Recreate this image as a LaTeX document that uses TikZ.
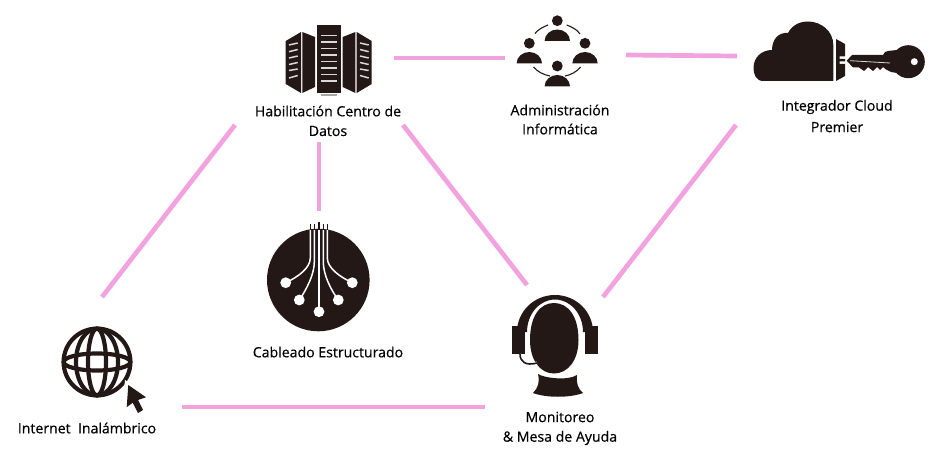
\documentclass[tikz,border=0pt]{standalone}
\usepackage{fontspec}
\setmainfont{Open Sans}[RawFeature={embolden=0.5}]
\definecolor{icondark}{HTML}{231815}
\definecolor{linkpink}{HTML}{F2A2DE}
\tikzset{
  link/.style={linkpink,line width=4.7pt},
  label/.style={font=\fontsize{14.1}{16}\selectfont,text=black,inner sep=0pt},
  icon/.style={fill=icondark,draw=none},
  slat/.style={draw=white!85!black,line width=1.5pt},
  wire/.style={draw=white,line width=1.5pt},
  grille/.style={draw=icondark,line width=4.2pt},
  ringarc/.style={draw=icondark,line width=1.1pt}
}
\begin{document}
\begin{tikzpicture}[x=1pt,y=-1pt]
\useasboundingbox (0,0) rectangle (937,468);

\coordinate (centroA) at (394,58);
\coordinate (adminA) at (505,58);
\coordinate (adminB) at (626,55);
\coordinate (cloudA) at (737,56);
\coordinate (centroB) at (235,125);
\coordinate (webA) at (102,297);
\coordinate (centroC) at (319,142);
\coordinate (cableA) at (319,211);
\coordinate (centroD) at (403,125);
\coordinate (deskA) at (527,285);
\coordinate (cloudB) at (736,125);
\coordinate (deskB) at (603,297);
\coordinate (webB) at (182,407);
\coordinate (deskC) at (485,407);

\draw[link] (centroA) -- (adminA);
\draw[link] (adminB) -- (cloudA);
\draw[link] (centroB) -- (webA);
\draw[link] (centroC) -- (cableA);
\draw[link] (centroD) -- (deskA);
\draw[link] (cloudB) -- (deskB);
\draw[link] (webB) -- (deskC);

% servers
\fill[icon] (317,25) rectangle (341,93);
\fill[white!65!black] (321,94) rectangle (337,96);
\fill[icon] (285.7,41) -- (301,32) -- (301,93) -- (285.7,84) -- cycle;
\fill[icon] (302.3,32) -- (315,37) -- (315,87) -- (302.3,93) -- cycle;
\fill[icon] (342.7,37) -- (355.4,32) -- (355.4,93) -- (342.7,87) -- cycle;
\fill[icon] (356.7,32) -- (371.7,41) -- (371.7,84) -- (356.7,93) -- cycle;
\foreach \y in {35.3,41.8,48.3,54.8,61.3,67.8,74.3,80.8}
  \draw[slat] (321,\y) -- (337,\y);
\foreach \y/\z in {45/43,51.7/49.5,58/56,64.5/62.5,70.5/69,78/75.5} {
  \draw[slat] (289,\y) -- (297.7,\z);
  \draw[slat] (368.7,\y) -- (360,\z);
}

% people
\foreach \hx/\hy/\by in {557.3/20.7/41,529.3/43.3/63.5,585/43.3/63.5,557.3/66/86.5} {
  \fill[icon] (\hx,\hy) circle (5.4);
  \fill[icon] (\hx-12.7,\by) arc[start angle=180,end angle=360,x radius=12.7,y radius=11.5] -- cycle;
}
\draw[ringarc] (535,33.5) .. controls (538,29.5) and (543,27) .. (548,25);
\draw[ringarc] (566.7,25) .. controls (572,27) and (577,29.5) .. (580,34);
\draw[ringarc] (533.5,67) .. controls (537,71.5) and (544,75) .. (550,76);
\draw[ringarc] (565,76) .. controls (571,75) and (577,71.5) .. (580.5,67);

% cloud and key
\fill[icon] (763,81) .. controls (756,81) and (753.5,74) .. (753.5,68)
  .. controls (753.5,57) and (762,50) .. (772,50)
  .. controls (772,39) and (779,32) .. (788,33)
  .. controls (792,25) and (800,21.5) .. (808,21.5)
  .. controls (821,21.5) and (833.3,31) .. (833.3,45)
  -- (833.3,81) -- cycle;
\fill[icon] (836,39) -- (845,44) -- (845,56.5) -- (839.5,56.5) -- (839.5,59) -- (845,59) -- (845,61.5)
  -- (839.5,61.5) -- (839.5,64) -- (845,64) -- (845,76) -- (836,81) -- cycle;
\fill[icon] (908.3,61.7) circle (16.5);
\fill[icon] (846.7,60.7) -- (852,55) -- (883,55) -- (885,52) -- (888,51) -- (897,50) -- (897,73)
  -- (891,72) -- (886,69.5) -- (883,67) -- (880,70) -- (877,67) -- (873,71) -- (868,67)
  -- (864,71) -- (859,67.5) -- (853,67.5) -- cycle;
\fill[white] (914.3,61.7) circle (3.5);
\draw[white!85!black,line width=0.8pt] (850,60.7) -- (890,63);

% cabling
\foreach \x in {310.3,314.3,323.3,327.3}
  \draw[icondark,line width=1.6pt] (\x,224) -- (\x,232);
\draw[icondark,line width=1.6pt] (319,221.5) -- (319,232);
\fill[icon] (318.3,280) circle (51.3);
\draw[wire] (310.3,230) -- (310.3,258) .. controls (310.3,268) and (298,277) .. (285.7,282.7);
\draw[wire] (314.3,230) -- (314.3,262) .. controls (314.3,275) and (306,290) .. (299.3,300);
\draw[wire] (319,230) -- (319,311.7);
\draw[wire] (323.3,230) -- (323.3,262) .. controls (323.3,275) and (331,290) .. (338.3,300);
\draw[wire] (327.3,230) -- (327.3,258) .. controls (327.3,268) and (340,277) .. (352.3,282.7);
\foreach \x/\y in {285.7/282.7,299.3/300,319/311.7,338.3/300,352.3/282.7}
  \fill[white] (\x,\y) circle (5.4);

% headset
\fill[icon] (512,326) rectangle (525,354);
\fill[icon] (585,326) rectangle (598.3,354);
\fill[icon] (517,332) arc[start angle=180,end angle=360,x radius=38,y radius=37]
  -- (583,332) arc[start angle=0,end angle=-180,x radius=28,y radius=32.5] -- cycle;
\fill[icon] (530,340) .. controls (530,316) and (540,303) .. (554,303)
  .. controls (568,303) and (578.5,316) .. (578.5,340)
  .. controls (578.5,360) and (568,373.5) .. (554,373.5)
  .. controls (540,373.5) and (530,360) .. (530,340) -- cycle;
\draw[white,line width=3pt] (520,354) .. controls (520,362) and (526,366) .. (537,363);
\draw[icondark,line width=1.6pt] (520,354) .. controls (520,362) and (526,366) .. (537,363);
\fill[icon] (538,374) .. controls (544,378) and (568,381) .. (577,375)
  .. controls (576,383) and (578,389) .. (583,393)
  .. controls (570,398) and (546,398) .. (533,393)
  .. controls (538,388) and (540,382) .. (538,374) -- cycle;

% globe
\draw[grille] (97,362) circle (33.4);
\draw[grille] (97,362) ellipse (21 and 33.4);
\draw[grille] (97,362) ellipse (9 and 33.4);
\draw[grille] (97,362) ellipse (33.4 and 8.5);
\fill[white] (125,380) -- (151,396) -- (141,417) -- (122,411) -- cycle;
\fill[icon] (128.3,385) -- (146,397.3) -- (138,400) -- (143,410) -- (138,413)
  -- (132.7,402.7) -- (126.7,407.3) -- cycle;

% labels
\node[label] (centroLabel) at (328,111) {Habilitación Centro de};
\node[label] (centroLabelB) at (328,131) {Datos};
\node[label] (adminLabel) at (560,110) {Administración};
\node[label] (adminLabelB) at (560,129) {Informática};
\node[label] (cloudLabel) at (837,107) {Integrador Cloud};
\node[label] (cloudLabelB) at (837,127) {Premier};
\node[label] (cableLabel) at (328,352) {Cableado Estructurado};
\node[label] (deskLabel) at (560,417) {Monitoreo};
\node[label] (deskLabelB) at (560,438) {\& Mesa de Ayuda};
\node[label] (webLabel) at (87,428) {Internet\ \ Inalámbrico};
\end{tikzpicture}
\end{document}
